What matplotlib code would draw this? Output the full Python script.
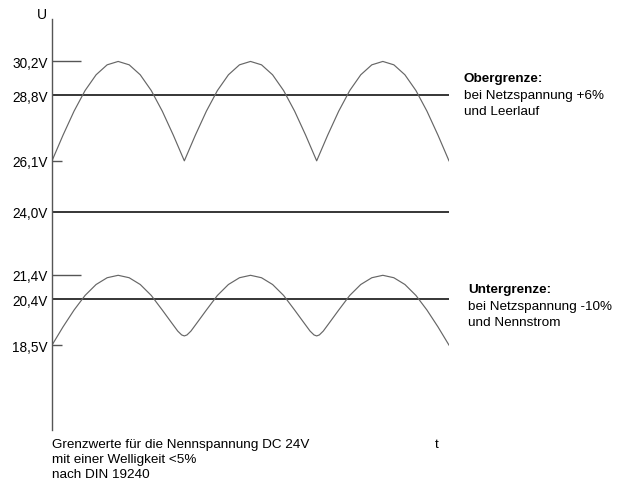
import matplotlib
matplotlib.use('Agg')
import matplotlib.pyplot as plt

# values (t in half-periods of the ripple)
t_upper = [i / 12 for i in range(37)]
v_upper = [26.10, 27.16, 28.15, 29.00, 29.65, 30.06, 30.20, 30.06, 29.65, 29.00, 28.15, 27.16,
           26.10, 27.16, 28.15, 29.00, 29.65, 30.06, 30.20, 30.06, 29.65, 29.00, 28.15, 27.16,
           26.10, 27.16, 28.15, 29.00, 29.65, 30.06, 30.20, 30.06, 29.65, 29.00, 28.15, 27.16,
           26.10]

t_lower = [0.0, 0.083, 0.167, 0.25, 0.333, 0.417, 0.5, 0.583, 0.667, 0.75, 0.833, 0.9, 0.95, 0.98,
           1.0, 1.02, 1.05, 1.1, 1.167, 1.25, 1.333, 1.417, 1.5, 1.583, 1.667, 1.75, 1.833, 1.9, 1.95, 1.98,
           2.0, 2.02, 2.05, 2.1, 2.167, 2.25, 2.333, 2.417, 2.5, 2.583, 2.667, 2.75, 2.833, 2.917, 3.0]
v_lower = [18.50, 19.25, 19.95, 20.55, 21.00, 21.28, 21.38, 21.28, 21.00, 20.55, 19.95, 19.45, 19.08, 18.92,
           18.88, 18.92, 19.08, 19.45, 19.95, 20.55, 21.00, 21.28, 21.38, 21.28, 21.00, 20.55, 19.95, 19.45, 19.08, 18.92,
           18.88, 18.92, 19.08, 19.45, 19.95, 20.55, 21.00, 21.28, 21.38, 21.28, 21.00, 20.55, 19.95, 19.25,
           18.50]

full_lines = [28.8, 24.0, 20.4]
long_marks = [30.2, 21.4]
short_marks = [26.1, 18.5]
tick_values = [30.2, 28.8, 26.1, 24.0, 21.4, 20.4, 18.5]
tick_labels = ['30,2V', '28,8V', '26,1V', '24,0V', '21,4V', '20,4V', '18,5V']

W, H = 618, 485
plt.rcParams['font.family'] = ['Liberation Sans', 'DejaVu Sans']


def fx(x):
    return x / W


def fy(y):
    return 1 - y / H


fig = plt.figure(figsize=(W / 100, H / 100), dpi=100)
ax = fig.add_axes([fx(52), fy(431), (449 - 52) / W, (431 - 20) / H])
ax.set_xlim(0, 3)
ax.set_ylim(15.0, 31.95)

for side in ['top', 'right', 'bottom']:
    ax.spines[side].set_visible(False)
ax.spines['left'].set_color('#555555')
ax.spines['left'].set_linewidth(1.0)

# reference levels
for v in full_lines:
    ax.plot([0, 3], [v, v], color='black', lw=1.1, solid_capstyle='butt')
for v in long_marks:
    ax.plot([0, 0.22], [v, v], color='#555555', lw=1.0, solid_capstyle='butt')
for v in short_marks:
    ax.plot([0, 0.076], [v, v], color='#555555', lw=1.0, solid_capstyle='butt')

# ripple curves
ax.plot(t_upper, v_upper, color='#666666', lw=0.85)
ax.plot(t_lower, v_lower, color='#666666', lw=0.85)

ax.set_xticks([])
ax.set_yticks(tick_values)
ax.set_yticklabels(tick_labels, fontsize=9.8)
ax.tick_params(axis='y', length=0, pad=3.2)

fig.text(fx(42), fy(15), 'U', ha='center', va='center', fontsize=10)
fig.text(fx(437), fy(445), 't', ha='center', va='center', fontsize=9.7)

for i, line in enumerate(['Grenzwerte für die Nennspannung DC 24V',
                          'mit einer Welligkeit <5%',
                          'nach DIN 19240']):
    fig.text(fx(52), fy(445 + 15 * i), line, ha='left', va='center', fontsize=9.7)

fig.text(fx(464), fy(79), 'Obergrenze:', ha='left', va='center', fontsize=9.7, fontweight='bold')
fig.text(fx(464), fy(96), 'bei Netzspannung +6%', ha='left', va='center', fontsize=9.7)
fig.text(fx(464), fy(112), 'und Leerlauf', ha='left', va='center', fontsize=9.7)

fig.text(fx(468), fy(290), 'Untergrenze:', ha='left', va='center', fontsize=9.7, fontweight='bold')
fig.text(fx(468), fy(307), 'bei Netzspannung -10%', ha='left', va='center', fontsize=9.7)
fig.text(fx(468), fy(323), 'und Nennstrom', ha='left', va='center', fontsize=9.7)

fig.savefig('out.png', dpi=100)
